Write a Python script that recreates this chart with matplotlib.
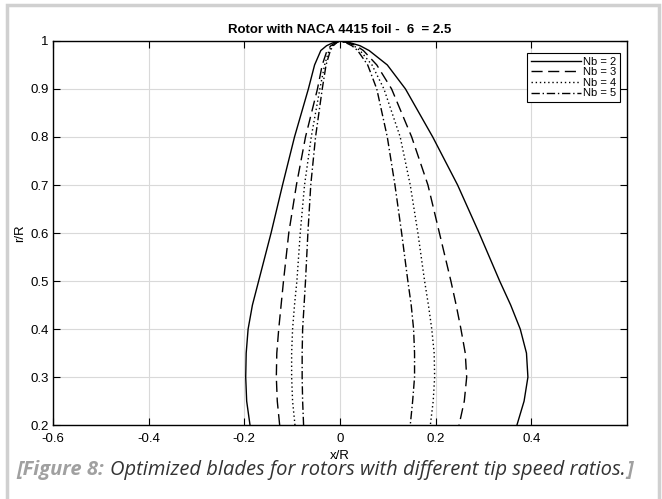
import matplotlib.pyplot as plt
from matplotlib.patches import Rectangle
import numpy as np

plt.rcParams['font.family'] = ['Liberation Sans', 'DejaVu Sans']

# radial stations r/R
r = [0.2, 0.25, 0.3, 0.35, 0.4, 0.45, 0.5, 0.6, 0.7, 0.8, 0.9, 0.95, 0.98, 0.99, 0.996, 1.0]

# blade edges x/R for each blade count
nb2_left = [-0.188, -0.195, -0.197, -0.196, -0.192, -0.183, -0.170, -0.144, -0.120, -0.095, -0.066, -0.053, -0.040, -0.028, -0.015, 0.0]
nb2_right = [0.370, 0.385, 0.393, 0.390, 0.377, 0.357, 0.334, 0.291, 0.246, 0.194, 0.137, 0.099, 0.061, 0.042, 0.022, 0.0]
nb3_left = [-0.126, -0.131, -0.133, -0.132, -0.128, -0.123, -0.118, -0.107, -0.091, -0.072, -0.047, -0.037, -0.027, -0.019, -0.010, 0.0]
nb3_right = [0.249, 0.260, 0.265, 0.262, 0.253, 0.243, 0.232, 0.208, 0.184, 0.150, 0.108, 0.077, 0.049, 0.034, 0.018, 0.0]
nb4_left = [-0.094, -0.099, -0.101, -0.101, -0.099, -0.095, -0.090, -0.083, -0.074, -0.060, -0.042, -0.032, -0.023, -0.016, -0.008, 0.0]
nb4_right = [0.189, 0.195, 0.198, 0.197, 0.192, 0.185, 0.177, 0.163, 0.147, 0.126, 0.092, 0.067, 0.042, 0.029, 0.015, 0.0]
nb5_left = [-0.076, -0.078, -0.079, -0.079, -0.078, -0.075, -0.072, -0.067, -0.061, -0.051, -0.037, -0.029, -0.020, -0.014, -0.007, 0.0]
nb5_right = [0.147, 0.152, 0.156, 0.156, 0.154, 0.149, 0.142, 0.129, 0.115, 0.099, 0.077, 0.058, 0.037, 0.025, 0.013, 0.0]

labels = ['Nb = 2', 'Nb = 3', 'Nb = 4', 'Nb = 5']
styles = ['-', (0, (8, 4)), (0, (1, 2)), (0, (6, 2, 1, 2))]

fig = plt.figure(figsize=(6.62, 4.99), dpi=100)
ax = fig.add_axes([0.080, 0.148, 0.867, 0.770])

blades = [(nb2_left, nb2_right), (nb3_left, nb3_right), (nb4_left, nb4_right), (nb5_left, nb5_right)]
for (left, right), ls, lab in zip(blades, styles, labels):
    xs = list(left) + list(right[::-1])
    ys = list(r) + list(r[::-1])
    ax.plot(xs, ys, color='black', linestyle=ls, linewidth=1.0, label=lab)

ax.set_xlim(-0.6, 0.6)
ax.set_ylim(0.2, 1.0)
ax.set_xticks([-0.6, -0.4, -0.2, 0, 0.2, 0.4])
ax.set_xticklabels(['-0.6', '-0.4', '-0.2', '0', '0.2', '0.4'])
ax.set_yticks([0.2, 0.3, 0.4, 0.5, 0.6, 0.7, 0.8, 0.9, 1.0])
ax.set_yticklabels(['0.2', '0.3', '0.4', '0.5', '0.6', '0.7', '0.8', '0.9', '1'])
ax.grid(True, color='#d9d9d9', linewidth=0.8)
ax.tick_params(direction='in', length=5, top=True, right=True, labelsize=9.5, width=0.8)
ax.tick_params(axis='x', pad=6)
ax.tick_params(axis='y', pad=3)
for sp in ax.spines.values():
    sp.set_linewidth(1.0)

ax.set_xlabel('x/R', fontsize=9.5, labelpad=3)
ax.set_ylabel('r/R', fontsize=9.5, labelpad=3)
ax.set_title('Rotor with NACA 4415 foil -  6  = 2.5', fontsize=9.5, fontweight='bold', pad=6)

leg = ax.legend(loc='upper right', fontsize=8, handlelength=4.5, handletextpad=0.2,
                borderpad=0.3, labelspacing=0.05, fancybox=False, edgecolor='black',
                framealpha=1, bbox_to_anchor=(0.997, 0.982))
leg.get_frame().set_linewidth(0.8)

# page frame and caption
fig.patches.append(Rectangle((0.011, -0.02), 0.984, 1.01, transform=fig.transFigure,
                             fill=False, edgecolor='#d0d0d0', linewidth=2.5))
cap_font = ['Open Sans', 'DejaVu Sans']
cap_y = 0.058
t1 = fig.text(0.024, cap_y, '[Figure 8:', fontsize=14.5, color='#a0a0a0', fontweight='bold',
              style='italic', family=cap_font, va='center')
fig.canvas.draw()
bb = t1.get_window_extent()
x2 = (bb.x1 + 6) / fig.bbox.width
t2 = fig.text(x2, cap_y, 'Optimized blades for rotors with different tip speed ratios.', fontsize=14.5,
              color='#333333', style='italic', family=cap_font, va='center')
fig.canvas.draw()
bb2 = t2.get_window_extent()
fig.text((bb2.x1 + 1) / fig.bbox.width, cap_y, ']', fontsize=14.5, color='#a0a0a0', fontweight='bold',
         style='italic', family=cap_font, va='center')

fig.savefig('out.png', dpi=100)
